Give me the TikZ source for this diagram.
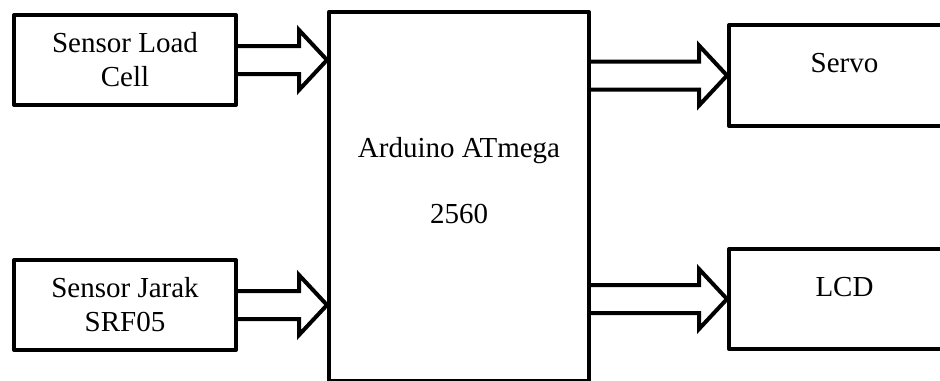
\documentclass[tikz,border=0pt]{standalone}
\usepackage{fontspec}
\setmainfont{Liberation Serif}
\usetikzlibrary{calc}

\begin{document}
\begin{tikzpicture}[
    x=0.5pt, y=-0.5pt,
    every node/.style={font=\fontsize{14.5}{17}\selectfont},
    block/.style={draw, line width=2pt, line join=round, align=center, inner sep=0pt},
    hightext/.style={text height=10pt, text depth=13pt},
    hollow/.style={line width=2pt, line join=miter,
        to path={($(\tikztostart)+(0,-14)$) -- ($(\tikztotarget)+(-28,-14)$)
            -- ($(\tikztotarget)+(-28,-30)$) -- (\tikztotarget)
            -- ($(\tikztotarget)+(-28,30)$) -- ($(\tikztotarget)+(-28,14)$)
            -- ($(\tikztostart)+(0,14)$)}}
]
\useasboundingbox (0,0) rectangle (940,380);

% Inputs
\node[block, minimum width=111pt, minimum height=45pt] (load) at (125,60) {Sensor Load\\Cell};
\node[block, minimum width=111pt, minimum height=45pt] (jarak) at (125,305) {Sensor Jarak\\SRF05};

% Controller
\node[block, minimum width=130pt, minimum height=184.5pt, text height=26.5pt, text depth=0pt]
    (arduino) at (459,196.5) {Arduino ATmega\\[16pt]2560};

% Outputs
\node[block, hightext, minimum width=115.5pt, minimum height=50.5pt] (servo) at (844.5,75.5) {Servo};
\node[block, hightext, minimum width=115.5pt, minimum height=50pt] (lcd) at (844.5,299) {LCD};

% Block arrows
\draw[hollow] (load.east) to (load.east -| arduino.west);
\draw[hollow] (jarak.east) to (jarak.east -| arduino.west);
\draw[hollow] (arduino.east |- servo.west) to (servo.west);
\draw[hollow] (arduino.east |- lcd.west) to (lcd.west);

\end{tikzpicture}
\end{document}
